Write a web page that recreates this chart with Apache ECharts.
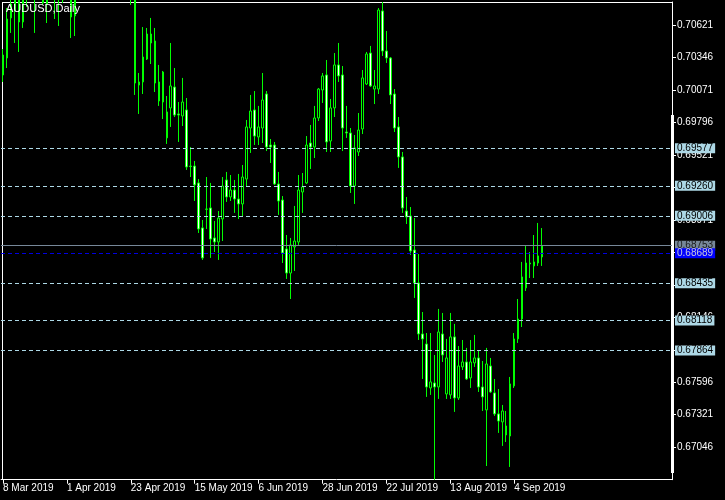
<!DOCTYPE html>
<html>
<head>
<meta charset="utf-8">
<script src="https://cdn.jsdelivr.net/npm/echarts@6/dist/echarts.min.js"></script>
<style>html,body{margin:0;padding:0;background:#000}#c{width:725px;height:500px}</style>
</head>
<body>
<div id="c"></div>
<script>
const symbolName = 'AUDUSD,Daily';
const dates = [
'8 Mar 2019','11 Mar 2019','12 Mar 2019','13 Mar 2019','14 Mar 2019','15 Mar 2019','18 Mar 2019','19 Mar 2019','20 Mar 2019','21 Mar 2019','22 Mar 2019','25 Mar 2019','26 Mar 2019','27 Mar 2019','28 Mar 2019','29 Mar 2019',
'1 Apr 2019','2 Apr 2019','3 Apr 2019','4 Apr 2019','5 Apr 2019','8 Apr 2019','9 Apr 2019','10 Apr 2019','11 Apr 2019','12 Apr 2019','15 Apr 2019','16 Apr 2019','17 Apr 2019','18 Apr 2019','19 Apr 2019','22 Apr 2019',
'23 Apr 2019','24 Apr 2019','25 Apr 2019','26 Apr 2019','29 Apr 2019','30 Apr 2019','1 May 2019','2 May 2019','3 May 2019','6 May 2019','7 May 2019','8 May 2019','9 May 2019','10 May 2019','13 May 2019','14 May 2019',
'15 May 2019','16 May 2019','17 May 2019','20 May 2019','21 May 2019','22 May 2019','23 May 2019','24 May 2019','27 May 2019','28 May 2019','29 May 2019','30 May 2019','31 May 2019','3 Jun 2019','4 Jun 2019','5 Jun 2019',
'6 Jun 2019','7 Jun 2019','10 Jun 2019','11 Jun 2019','12 Jun 2019','13 Jun 2019','14 Jun 2019','17 Jun 2019','18 Jun 2019','19 Jun 2019','20 Jun 2019','21 Jun 2019','24 Jun 2019','25 Jun 2019','26 Jun 2019','27 Jun 2019',
'28 Jun 2019','1 Jul 2019','2 Jul 2019','3 Jul 2019','4 Jul 2019','5 Jul 2019','8 Jul 2019','9 Jul 2019','10 Jul 2019','11 Jul 2019','12 Jul 2019','15 Jul 2019','16 Jul 2019','17 Jul 2019','18 Jul 2019','19 Jul 2019',
'22 Jul 2019','23 Jul 2019','24 Jul 2019','25 Jul 2019','26 Jul 2019','29 Jul 2019','30 Jul 2019','31 Jul 2019','1 Aug 2019','2 Aug 2019','5 Aug 2019','6 Aug 2019','7 Aug 2019','8 Aug 2019','9 Aug 2019','12 Aug 2019',
'13 Aug 2019','14 Aug 2019','15 Aug 2019','16 Aug 2019','19 Aug 2019','20 Aug 2019','21 Aug 2019','22 Aug 2019','23 Aug 2019','26 Aug 2019','27 Aug 2019','28 Aug 2019','29 Aug 2019','30 Aug 2019','2 Sep 2019','3 Sep 2019',
'4 Sep 2019','5 Sep 2019','6 Sep 2019','9 Sep 2019','10 Sep 2019','11 Sep 2019','12 Sep 2019','13 Sep 2019'
];
const opens = [
0.70198,0.70342,0.70681,0.70858,0.70875,0.70647,0.70918,0.71002,0.70960,0.70918,0.70960,0.70799,0.70918,0.70960,0.70875,0.70918,
0.70875,0.70689,0.70698,0.7095,0.7105,0.7100,0.7128,0.7145,0.7155,0.7130,0.7175,0.7165,0.7170,0.7185,0.7140,0.7150,
0.7135,0.70901,0.70113,0.70139,0.70333,0.70545,0.70486,0.70139,0.69969,0.69665,0.69919,0.70096,0.69868,0.69851,0.69902,0.69427,
0.69427,0.69284,0.68903,0.69063,0.69072,0.68818,0.68784,0.68979,0.69309,0.69165,0.69224,0.69148,0.69106,0.69317,0.69749,0.69902,
0.69673,0.69749,0.70037,0.69605,0.69605,0.69275,0.69139,0.68725,0.68521,0.68742,0.68784,0.69207,0.69284,0.69622,0.69588,0.69834,
0.70071,0.70198,0.69639,0.69919,0.70283,0.70198,0.69715,0.69707,0.69258,0.69546,0.69741,0.70122,0.70384,0.70079,0.70079,0.70740,
0.70401,0.70342,0.70037,0.69758,0.69504,0.69046,0.69004,0.68716,0.68437,0.68005,0.67920,0.67548,0.67590,0.67556,0.68005,0.67497,
0.67489,0.67980,0.67463,0.67726,0.67768,0.67633,0.67760,0.67802,0.67556,0.67362,0.67734,0.67506,0.67328,0.67260,0.67226,0.67141,
0.67565,0.67963,0.68132,0.68395,0.68606,0.68581,0.68606,0.68657
];
const closes = [
0.70367,0.70672,0.70799,0.70748,0.70647,0.70833,0.70850,0.70960,0.70875,0.71002,0.70808,0.70918,0.71002,0.70875,0.70960,0.70833,
0.70960,0.70875,0.70901,0.7105,0.7100,0.7128,0.7145,0.7155,0.7130,0.7175,0.7165,0.7170,0.7185,0.7140,0.7150,0.7135,
0.70875,0.70130,0.70139,0.70350,0.70545,0.70469,0.70130,0.69978,0.70223,0.69885,0.70105,0.69859,0.69859,0.69969,0.69419,0.69423,
0.69267,0.68894,0.68649,0.69061,0.68809,0.68784,0.68987,0.69258,0.69165,0.69224,0.69148,0.69106,0.69334,0.69758,0.69893,0.69681,
0.69758,0.69986,0.69588,0.69588,0.69275,0.69131,0.68691,0.68521,0.68759,0.68792,0.69224,0.69250,0.69605,0.69588,0.69834,0.70079,
0.70190,0.69631,0.69919,0.70283,0.70190,0.69749,0.69707,0.69258,0.69580,0.69732,0.70173,0.70376,0.70105,0.70105,0.70748,0.70401,
0.70342,0.70029,0.69749,0.69504,0.69072,0.68996,0.68708,0.68437,0.68005,0.67963,0.67556,0.67599,0.67556,0.68022,0.67827,0.67802,
0.67980,0.67463,0.67734,0.67768,0.67624,0.67768,0.67802,0.67556,0.67472,0.67751,0.67514,0.67328,0.67268,0.67353,0.67150,0.67582,
0.67963,0.68132,0.68488,0.68606,0.68598,0.68615,0.68666,0.68753
];
const lows = [
0.70139,0.70257,0.70554,0.70469,0.70393,0.70596,0.70774,0.70875,0.70554,0.70858,0.70791,0.70638,0.70850,0.70672,0.70613,0.70808,
0.70850,0.70511,0.70528,0.7090,0.7092,0.7095,0.7120,0.7130,0.7120,0.7125,0.7150,0.7150,0.7160,0.7130,0.7135,0.7125,
0.70791,0.70029,0.69868,0.70037,0.70325,0.70291,0.70054,0.69936,0.69825,0.69614,0.69758,0.69842,0.69631,0.69766,0.69394,0.69334,
0.69131,0.68860,0.68632,0.68894,0.68649,0.68699,0.68632,0.68792,0.69123,0.69131,0.69030,0.68979,0.69004,0.69258,0.69538,0.69605,
0.69605,0.69622,0.69554,0.69453,0.69267,0.69013,0.68606,0.68471,0.68301,0.68538,0.68759,0.69030,0.69275,0.69402,0.69495,0.69808,
0.69961,0.69546,0.69546,0.69842,0.70139,0.69554,0.69665,0.69199,0.69106,0.69512,0.69698,0.70113,0.70096,0.69952,0.70037,0.70359,
0.70300,0.69952,0.69715,0.69411,0.69030,0.68936,0.68674,0.68310,0.67954,0.67624,0.67472,0.67489,0.66770,0.67455,0.67768,0.67455,
0.67455,0.67345,0.67446,0.67700,0.67615,0.67548,0.67726,0.67514,0.67353,0.66887,0.67506,0.67311,0.67167,0.67057,0.67090,0.66879,
0.67548,0.67929,0.68064,0.68369,0.68479,0.68479,0.68581,0.68581
];
const highs = [
0.70418,0.70765,0.70875,0.70918,0.70918,0.70901,0.71002,0.71087,0.71045,0.71087,0.71045,0.71002,0.71087,0.71045,0.71045,0.71002,
0.71045,0.70960,0.70960,0.7125,0.7120,0.7135,0.7160,0.7165,0.7160,0.7180,0.7185,0.7185,0.7206,0.7190,0.7155,0.7160,
0.7140,0.70960,0.70215,0.70604,0.70596,0.70681,0.70596,0.70283,0.70232,0.70020,0.70469,0.70257,0.69969,0.70173,0.70003,0.69588,
0.69470,0.69317,0.68970,0.69334,0.69284,0.68962,0.69046,0.69334,0.69377,0.69351,0.69309,0.69360,0.69436,0.69817,0.70029,0.70062,
0.69936,0.70215,0.70062,0.69656,0.69631,0.69377,0.69173,0.68843,0.68818,0.69089,0.69351,0.69368,0.69681,0.69775,0.69936,0.70088,
0.70215,0.70325,0.69995,0.70384,0.70469,0.70274,0.69936,0.69749,0.69690,0.69876,0.70240,0.70393,0.70444,0.70240,0.70765,0.70816,
0.70571,0.70350,0.70079,0.69842,0.69546,0.69165,0.69080,0.68987,0.68682,0.68191,0.68013,0.68013,0.67827,0.68217,0.68183,0.67963,
0.68183,0.68090,0.67903,0.67954,0.67887,0.67954,0.67997,0.67861,0.67776,0.67887,0.67802,0.67624,0.67539,0.67404,0.67353,0.67641,
0.68013,0.68301,0.68615,0.68750,0.68699,0.68843,0.68945,0.68902
];
const yTicks = [0.70621,0.70346,0.70071,0.69796,0.69521,0.69246,0.68971,0.68696,0.68421,0.68146,0.67871,0.67596,0.67321,0.67046];
const levels = [0.69577,0.69260,0.69006,0.68435,0.68118,0.67864];
const bidPrice = 0.68753;
const askPrice = 0.68689;
const yMin = 0.66771, yMax = 0.70816;
const emptySlots = 32;
const labelStep = 16;

const categories = dates.concat(new Array(emptySlots).fill(''));
const ohlc = dates.map((d, i) => [opens[i], closes[i], lows[i], highs[i]]);
const FONT = 'Liberation Sans';

const levelLines = levels.map(v => ({
  yAxis: v,
  lineStyle: {color: '#add8e6', type: [4, 3], width: 1},
  label: {backgroundColor: '#add8e6', color: '#000'}
}));
levelLines.push({
  yAxis: bidPrice,
  lineStyle: {color: '#778899', type: 'solid', width: 1},
  label: {backgroundColor: '#778899', color: '#1a1a1a'}
});
levelLines.push({
  yAxis: askPrice,
  lineStyle: {color: '#0000e0', type: [4, 3], width: 1},
  label: {backgroundColor: '#0000ff', color: '#c8c8d8'}
});

const chart = echarts.init(document.getElementById('c'), null, {renderer: 'canvas'});
chart.setOption({
  backgroundColor: '#000',
  animation: false,
  title: {
    text: symbolName, left: 6, top: 3, padding: 0,
    textStyle: {color: '#fff', fontSize: 11, fontWeight: 'normal', fontFamily: FONT}
  },
  grid: {left: 0, right: 53, top: 2, bottom: 20.3, containLabel: false},
  xAxis: {
    type: 'category', data: categories, boundaryGap: true,
    axisLine: {lineStyle: {color: '#fff', width: 1}},
    axisTick: {show: true, alignWithLabel: true, length: 4, lineStyle: {color: '#fff'},
      interval: (i, v) => v !== '' && i % labelStep === 0},
    axisLabel: {color: '#fff', fontSize: 10, fontFamily: FONT, align: 'left', margin: 4,
      interval: (i, v) => v !== '' && i % labelStep === 0},
    splitLine: {show: false}
  },
  yAxis: {
    type: 'value', position: 'right', min: yMin, max: yMax, scale: true, z: 0,
    axisLine: {show: true, lineStyle: {color: '#fff', width: 1}},
    axisTick: {show: true, length: 4, lineStyle: {color: '#fff'}, customValues: yTicks},
    axisLabel: {color: '#fff', fontSize: 10, fontFamily: FONT, margin: 5,
      customValues: yTicks, formatter: v => v.toFixed(5)},
    splitLine: {show: false}
  },
  series: [{
    type: 'candlestick',
    data: ohlc,
    clip: true,
    barWidth: 2,
    z: 3,
    itemStyle: {color: '#000', color0: '#fff', borderColor: '#00ff00', borderColor0: '#00ff00', borderWidth: 1},
    markLine: {
      silent: true, symbol: ['none', 'none'], animation: false, precision: 5, z: 20,
      label: {show: true, position: 'end', distance: 3, fontSize: 10, fontFamily: FONT,
        lineHeight: 10, padding: [0, 2, 0, 2], formatter: p => Number(p.value).toFixed(5)},
      data: levelLines
    }
  }],
  graphic: [
    {type: 'line', shape: {x1: 2.5, y1: 2, x2: 2.5, y2: 480}, style: {stroke: '#fff', lineWidth: 1}, silent: true},
    {type: 'line', shape: {x1: 2, y1: 2.5, x2: 672, y2: 2.5}, style: {stroke: '#fff', lineWidth: 1}, silent: true},
    {type: 'rect', shape: {x: 671, y: 115, width: 3, height: 358}, style: {fill: '#fff'}, silent: true, z: 10}
  ]
});
</script>
</body>
</html>
